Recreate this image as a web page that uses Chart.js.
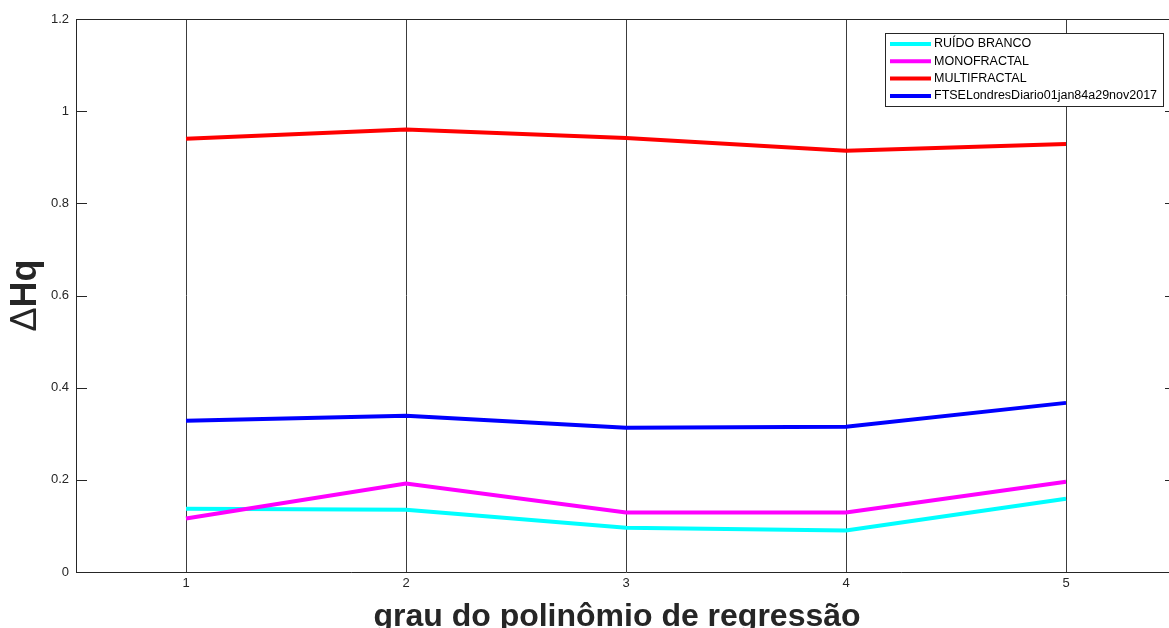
<!DOCTYPE html>
<html>
<head>
<meta charset="utf-8">
<script src="https://cdn.jsdelivr.net/npm/chart.js@4/dist/chart.umd.min.js"></script>
<style>
  html, body { margin: 0; padding: 0; background: #fff; overflow: hidden; }
  #wrap { width: 1169px; height: 628px; overflow: hidden; }
  canvas { display: block; }
</style>
</head>
<body>
<div id="wrap"><canvas id="chart" width="1180" height="628"></canvas></div>
<script>
const FONT = "'Liberation Sans', Arial, Helvetica, sans-serif";
const INK = "#262626";

// polynomial degree on x, ΔHq per series
const degrees = ["1", "2", "3", "4", "5"];
const yTickLabels = ["0", "0.2", "0.4", "0.6", "0.8", "1", "1.2"];
const xTitle = "grau do polinômio de regressão";

const ruidoBranco = [0.137, 0.135, 0.096, 0.090, 0.159];
const monofractal = [0.116, 0.192, 0.129, 0.129, 0.196];
const multifractal = [0.940, 0.960, 0.942, 0.914, 0.929];
const ftse = [0.328, 0.339, 0.313, 0.315, 0.367];

const seriesNames = ["RUÍDO BRANCO", "MONOFRACTAL", "MULTIFRACTAL", "FTSELondresDiario01jan84a29nov2017"];
const seriesColors = ["#00ffff", "#ff00ff", "#ff0000", "#0000ff"];
const seriesData = [ruidoBranco, monofractal, multifractal, ftse];

// top/right frame, inward y ticks on both sides, axis titles and the boxed legend
const framePlugin = {
  id: "frame",
  afterDraw(chart) {
    const { ctx, chartArea: a, scales } = chart;
    ctx.save();
    ctx.strokeStyle = INK;
    ctx.lineWidth = 1;
    ctx.beginPath();
    ctx.moveTo(a.left, a.top + 0.5);
    ctx.lineTo(a.right, a.top + 0.5);
    ctx.moveTo(a.right - 0.5, a.top);
    ctx.lineTo(a.right - 0.5, a.bottom);
    scales.y.ticks.forEach((t) => {
      const py = Math.round(scales.y.getPixelForValue(t.value)) + 0.5;
      ctx.moveTo(a.left, py);
      ctx.lineTo(a.left + 11, py);
      ctx.moveTo(a.right, py);
      ctx.lineTo(a.right - 11, py);
    });
    ctx.stroke();

    // x axis title, sits a little left of the plot centre
    ctx.fillStyle = INK;
    ctx.font = "bold 32px " + FONT;
    ctx.textAlign = "center";
    ctx.textBaseline = "alphabetic";
    ctx.fillText(xTitle, 617, 626);

    // y axis title: light delta, bold Hq
    ctx.save();
    ctx.translate(26, (a.top + a.bottom) / 2);
    ctx.rotate(-Math.PI / 2);
    ctx.textAlign = "left";
    ctx.textBaseline = "middle";
    const fDelta = "36px " + FONT, fHq = "bold 36px " + FONT;
    ctx.font = fDelta;
    const wD = ctx.measureText("Δ").width;
    ctx.font = fHq;
    const wH = ctx.measureText("Hq").width;
    const x0 = -(wD + wH) / 2;
    ctx.font = fDelta;
    ctx.fillText("Δ", x0, 0);
    ctx.font = fHq;
    ctx.fillText("Hq", x0 + wD, 0);
    ctx.restore();

    // legend
    const lx = 885, ly = 33, lw = 278, lh = 73;
    ctx.fillStyle = "#fff";
    ctx.fillRect(lx, ly, lw, lh);
    ctx.strokeStyle = INK;
    ctx.strokeRect(lx + 0.5, ly + 0.5, lw, lh);
    ctx.font = "12.5px " + FONT;
    ctx.textAlign = "left";
    ctx.textBaseline = "middle";
    ctx.fillStyle = "#000";
    chart.data.datasets.forEach((ds, i) => {
      const ry = 44 + i * 17.3;
      ctx.strokeStyle = ds.borderColor;
      ctx.lineWidth = 4;
      ctx.beginPath();
      ctx.moveTo(890, ry);
      ctx.lineTo(931, ry);
      ctx.stroke();
      ctx.fillText(ds.label, 934, ry);
    });
    ctx.restore();
  },
};

new Chart(document.getElementById("chart"), {
  type: "line",
  data: {
    labels: degrees,
    datasets: seriesData.map((d, i) => ({
      label: seriesNames[i],
      data: d,
      borderColor: seriesColors[i],
      backgroundColor: seriesColors[i],
      borderWidth: 4,
      pointRadius: 0,
      tension: 0,
      order: 4 - i,
    })),
  },
  options: {
    responsive: false,
    animation: false,
    layout: { padding: { top: 19, right: 4, left: 0, bottom: 0 } },
    plugins: { legend: { display: false }, tooltip: { enabled: false } },
    scales: {
      x: {
        type: "category",
        offset: true,
        afterFit(s) { s.height = 56; },
        grid: { offset: false, color: "#3c3c3c", lineWidth: 1, drawTicks: false },
        border: { color: INK, width: 1 },
        ticks: { color: INK, font: { family: FONT, size: 13 }, padding: 4, maxRotation: 0 },
      },
      y: {
        min: 0,
        max: 1.2,
        afterFit(s) { s.width = 76; },
        grid: { display: false },
        border: { color: INK, width: 1 },
        ticks: {
          stepSize: 0.2,
          color: INK,
          font: { family: FONT, size: 13 },
          padding: -1,
          callback: (v, i) => yTickLabels[i],
        },
      },
    },
  },
  plugins: [framePlugin],
});
</script>
</body>
</html>
